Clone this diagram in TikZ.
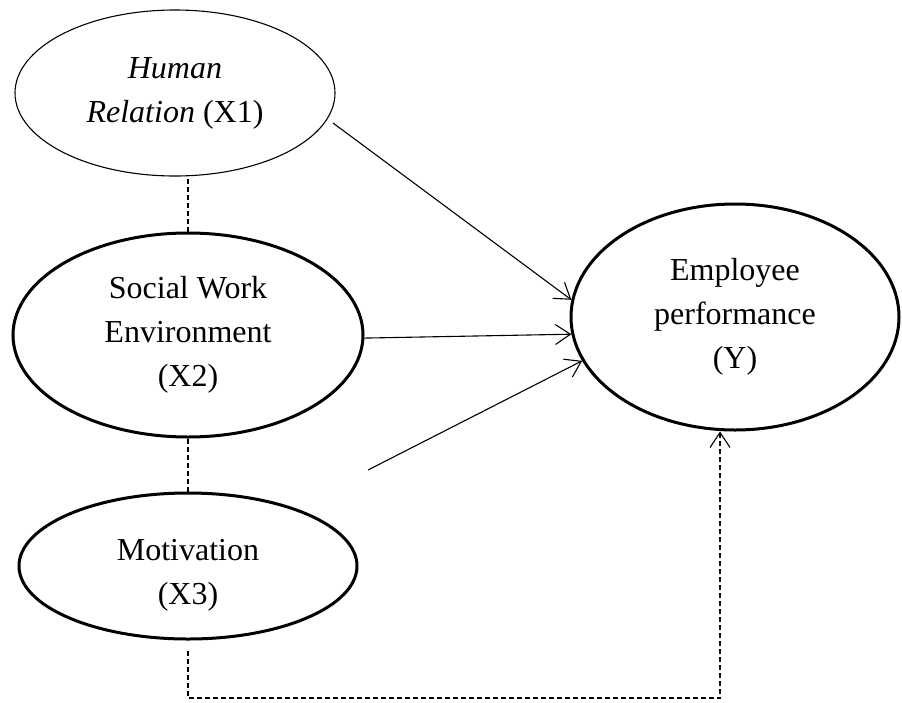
\documentclass[tikz,border=0pt]{standalone}
\usepackage{fontspec}
\setmainfont{Liberation Serif}
\usetikzlibrary{shapes.geometric,arrows.meta}
\begin{document}
\begin{tikzpicture}[x=1pt,y=-1pt,
  lat/.style={ellipse,draw,inner sep=0pt,align=center,font=\fontsize{32}{44}\selectfont},
  thin/.style={line width=1.1pt},
  thick/.style={line width=3pt},
  arr/.style={line width=1.1pt,-{Straight Barb[length=15pt,width=20pt,line width=1.1pt]}},
  dsh/.style={line width=1.1pt,dash pattern=on 5pt off 3pt},
]
\useasboundingbox (0,0) rectangle (902,702);
\node[lat,thin,minimum width=320pt,minimum height=166pt] (x1) at (175,93) {\textit{Human}\\\textit{Relation} (X1)};
\node[lat,thick,minimum width=350pt,minimum height=204pt] (x2) at (188,335) {Social Work\\Environment\\(X2)};
\node[lat,thick,minimum width=338pt,minimum height=146pt] (x3) at (188,566) {\rule{0pt}{40pt}Motivation\\(X3)};
\node[lat,thick,minimum width=328pt,minimum height=226pt] (y) at (735,317) {Employee\\performance\\(Y)};
\coordinate (x1o) at ([shift={(158,30)}]x1.center);
\coordinate (x3o) at ([shift={(180,-96)}]x3.center);
\coordinate (b2) at (720,698);
\draw[dsh] (x2.north) -- (x2.north |- x1.south);
\draw[dsh] (x3.north) -- (x2.south);
\draw[arr] (x1o) -- (y.174);
\draw[arr] (x2.-1.6) -- (y.186.4);
\draw[arr] (x3o) -- (y.196.8);
\draw[dsh,-{Straight Barb[length=15pt,width=20pt,line width=1.1pt]}] ([yshift=-10pt]x3.south) |- (b2) -- (y.south -| b2);
\end{tikzpicture}
\end{document}
